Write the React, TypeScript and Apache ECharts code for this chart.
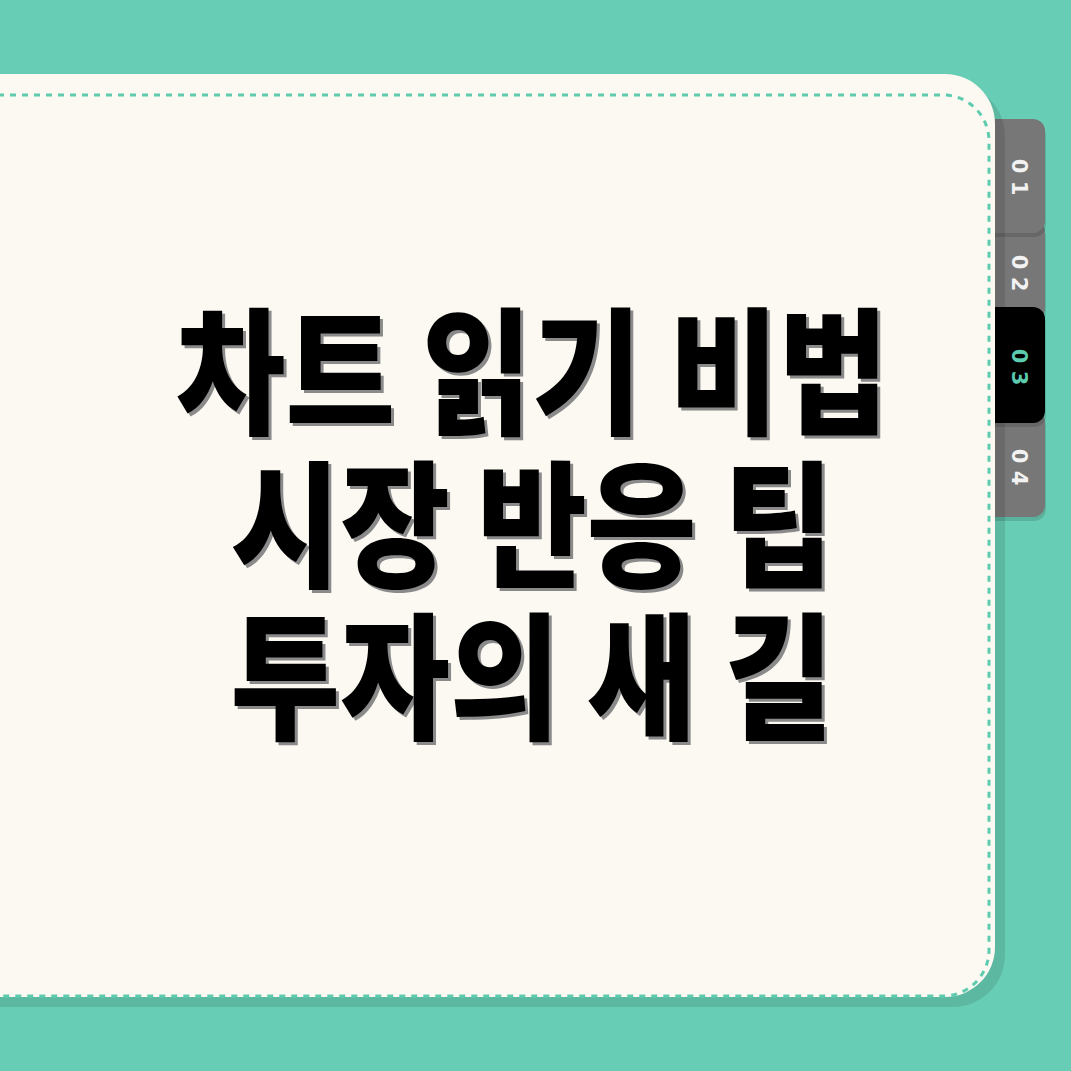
import React, { useEffect, useRef } from "react";
import * as echarts from "echarts";

const titleLines: string[] = ["차트 읽기 비법", "시장 반응 팁", "투자의 새 길"];
const tabLabels: string[] = ["01", "02", "03", "04"];
const activeTab = 2;

const BG = "#68CDB5";
const CARD = "#FCF9F2";
const DASH = "#5ECBAE";
const TAB = "#777777";

export default function App() {
  const ref = useRef<HTMLDivElement | null>(null);
  useEffect(() => {
    if (!ref.current) return;
    const chart = echarts.init(ref.current, null, { renderer: "svg" });

    const tabBoxes: [number, number][] = [
      [119, 233],
      [220, 320],
      [307, 423],
      [410, 517],
    ];
    const tabTextY = [177, 273, 367, 467];
    const drawOrder = [3, 1, 0, 2];

    const elements: any[] = [];
    drawOrder.forEach((i) => {
      const [t, b] = tabBoxes[i];
      elements.push({
        type: "rect",
        shape: { x: 975, y: t + 4, width: 71, height: b - t, r: 12 },
        style: { fill: "rgba(0,0,0,0.13)" },
      });
      elements.push({
        type: "rect",
        shape: { x: 975, y: t, width: 70, height: b - t, r: 12 },
        style: { fill: i === activeTab ? "#000000" : TAB },
      });
    });
    tabLabels.forEach((lab, i) => {
      elements.push({
        type: "text",
        x: 1019,
        y: tabTextY[i],
        rotation: -Math.PI / 2,
        style: {
          text: lab.split("").join(" "),
          fill: i === activeTab ? "#5CCBAF" : "#F2F2F2",
          fontSize: 21,
          fontWeight: "bold",
          fontFamily: "DejaVu Sans",
          align: "center",
          verticalAlign: "middle",
        },
      });
    });

    elements.push({
      type: "rect",
      shape: { x: -60, y: 84, width: 1065, height: 923, r: 52 },
      style: { fill: "rgba(0,0,0,0.1)" },
    });
    elements.push({
      type: "rect",
      shape: { x: -60, y: 74, width: 1055, height: 923, r: 50 },
      style: { fill: CARD },
    });
    elements.push({
      type: "rect",
      shape: { x: -60, y: 95, width: 1049, height: 901, r: 46 },
      style: { fill: "none", stroke: DASH, lineWidth: 3, lineDash: [6, 6] },
    });

    const lineY = [364, 517, 669];
    titleLines.forEach((line, i) => {
      [
        { dx: 3, dy: 3, fill: "#8a8a8a" },
        { dx: 0, dy: 0, fill: "#000000" },
      ].forEach((s) => {
        elements.push({
          type: "text",
          x: 532 + s.dx,
          y: lineY[i] + s.dy,
          scaleX: 0.87,
          style: {
            text: line,
            fill: s.fill,
            fontSize: 137,
            fontWeight: 900,
            fontFamily: "Noto Sans CJK KR",
            align: "center",
            verticalAlign: "middle",
          },
        });
      });
    });

    chart.setOption({
      animation: false,
      backgroundColor: BG,
      graphic: { elements },
    });
    return () => chart.dispose();
  }, []);
  return (
    <div
      ref={ref}
      style={{ position: "fixed", left: 0, top: 0, width: 1071, height: 1071 }}
    />
  );
}
